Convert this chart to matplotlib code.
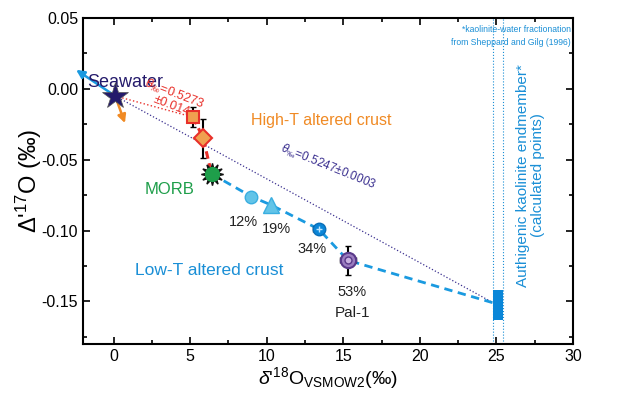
import matplotlib
matplotlib.use("Agg")
import matplotlib.pyplot as plt
from matplotlib.ticker import MultipleLocator, FormatStrFormatter
import numpy as np

plt.rcParams['font.family'] = ['Liberation Sans', 'DejaVu Sans']
plt.rcParams['mathtext.fontset'] = 'custom'
plt.rcParams['mathtext.rm'] = 'Liberation Sans'
plt.rcParams['mathtext.it'] = 'Liberation Sans:italic'

# ---- data ----
seawater = (0.1, -0.005)
arrow_blue_tip = (-2.6, 0.0145)
arrow_orange_tip = (0.8, -0.026)

hiT_x = [5.2, 5.85]
hiT_y = [-0.020, -0.035]
hiT_yerr = [0.007, 0.014]
hiT_xerr = [0.0, 0.3]

morb = (6.4, -0.060)

lowT_x = [9.0, 10.3, 13.4, 15.3]
lowT_y = [-0.076, -0.082, -0.099, -0.121]
lowT_labels = ["12%", "19%", "34%", "53%"]
lowT_yerr = [0.0, 0.0, 0.003, 0.010]
lowT_xerr = [0.0, 0.0, 0.35, 0.5]

kaol_x = [24.8, 25.4]
kaol_y = [-0.142, -0.163]
kaol_end = (24.8, -0.151)

xticks = [0, 5, 10, 15, 20, 25, 30]
yticks = [0.05, 0.00, -0.05, -0.10, -0.15]

navy = '#241a6b'
red = '#e8302a'
orange = '#f08a24'
green = '#1e9e4a'
blue = '#1a8fd6'
lblue = '#62c4e8'

fig = plt.figure(figsize=(6.25, 3.97), dpi=100)
ax = fig.add_axes([0.1328, 0.1335, 0.784, 0.8212])
ax.set_xlim(-2, 30)
ax.set_ylim(-0.18, 0.05)

# kaolinite dotted verticals and bar
for xv in kaol_x:
    ax.axvline(xv, color=blue, lw=0.8, ls=':')
ax.fill_between(kaol_x, kaol_y[0], kaol_y[1], color='#0a86d8', lw=0, zorder=3)

# theta lines
ax.plot([seawater[0], kaol_end[0]], [seawater[1], kaol_end[1]], ls=':', color='#3a2f8f', lw=0.9, zorder=2)
ax.plot([seawater[0], hiT_x[0]], [seawater[1], hiT_y[0]], ls=':', color=red, lw=1.0, zorder=2)

# high-T dashed line
ax.plot([hiT_x[0], hiT_x[1], morb[0]], [hiT_y[0], hiT_y[1], morb[1]], ls=(0, (2.5, 1.5)), color=red, lw=2.2, zorder=2)
# low-T dashed curve
cx = [morb[0]] + lowT_x + [kaol_end[0]]
cy = [morb[1]] + lowT_y + [kaol_end[1]]
ax.plot(cx, cy, ls=(0, (3, 2)), color='#1a9ae0', lw=2.0, zorder=2)

# arrows
ax.annotate('', xy=arrow_blue_tip, xytext=seawater, annotation_clip=False,
            arrowprops=dict(arrowstyle='-|>', color='#1a9ae0', lw=1.8, mutation_scale=12))
ax.annotate('', xy=arrow_orange_tip, xytext=seawater,
            arrowprops=dict(arrowstyle='-|>', color=orange, lw=1.8, mutation_scale=12))

# error bars
ax.errorbar(hiT_x, hiT_y, yerr=hiT_yerr, xerr=hiT_xerr, fmt='none', ecolor='black', elinewidth=1.5, capsize=2.5, zorder=4)
ax.errorbar(lowT_x, lowT_y, yerr=lowT_yerr, xerr=lowT_xerr, fmt='none', ecolor='black', elinewidth=1.5, capsize=2.5, zorder=4)

# markers
ax.plot(*seawater, marker='*', ms=20, color=navy, mec='#555', mew=0.5, zorder=6)
ax.plot(hiT_x[0], hiT_y[0], marker='s', ms=9, mfc='#f0a050', mec=red, mew=1.5, zorder=5)
ax.plot(hiT_x[1], hiT_y[1], marker='D', ms=9, mfc='#f0a050', mec=red, mew=1.5, zorder=5)
ax.plot(*morb, marker=(12, 1, 0), ms=16, color='#111', zorder=5)
ax.plot(*morb, marker='o', ms=10, color=green, zorder=6)
ax.plot(lowT_x[0], lowT_y[0], marker='o', ms=9, mfc=lblue, mec='#3aaee0', mew=1, zorder=5)
ax.plot(lowT_x[1], lowT_y[1], marker='^', ms=11, mfc=lblue, mec='#3aaee0', mew=1, zorder=5)
ax.plot(lowT_x[2], lowT_y[2], marker='o', ms=9, mfc='#0a86d8', mec='#0a6fb8', mew=1, zorder=5)
ax.plot(lowT_x[2], lowT_y[2], marker='+', ms=4, color='#bfe6ff', mew=1, zorder=6)
ax.plot(lowT_x[3], lowT_y[3], marker='o', ms=11, mfc='#9a7cc0', mec='#5a3a8a', mew=1.5, zorder=5)
ax.plot(lowT_x[3], lowT_y[3], marker='o', ms=5, mfc='#c8b0e0', mec='#5a3a8a', mew=1, zorder=6)

# labels
ax.text(-1.7, 0.0045, 'Seawater', color=navy, fontsize=13, ha='left', va='center')
ax.text(3.95, -0.0035, r'$\theta_{‰}$=0.5273', color=red, fontsize=9,
        rotation=-21, ha='center', va='center')
ax.text(3.75, -0.0118, r'±0.014', color=red, fontsize=9,
        rotation=-21, ha='center', va='center')
ax.text(9.0, -0.0225, 'High-T altered crust', color=orange, fontsize=11.5, ha='left', va='center')
ax.text(5.3, -0.071, 'MORB', color=green, fontsize=12, ha='right', va='center')
off = [(-0.55, -0.0177), (0.35, -0.017), (-0.45, -0.014), (0.3, -0.022)]
for x, y, t, (dx, dy) in zip(lowT_x, lowT_y, lowT_labels, off):
    ax.text(x + dx, y + dy, t, color='#222', fontsize=10.5, ha='center', va='center')
ax.text(lowT_x[3] + 0.3, -0.158, 'Pal-1', color='#222', fontsize=11, ha='center', va='center')
ax.text(1.4, -0.128, 'Low-T altered crust', color=blue, fontsize=12.5, ha='left', va='center')
ax.text(14.0, -0.055, r'$\theta_{‰}$=0.5247±0.0003', color='#3a2f8f', fontsize=8.5,
        rotation=-22, ha='center', va='center')
ax.text(29.85, 0.045, '*kaolinite-water fractionation\nfrom Sheppard and Gilg (1996)', color=blue,
        fontsize=6.2, ha='right', va='top', linespacing=1.6)
ax.text(27.2, -0.061, 'Authigenic kaolinite endmember*\n(calculated points)', color=blue,
        fontsize=11, rotation=90, ha='center', va='center', linespacing=1.1)

# axes style
ax.set_xticks(xticks)
ax.set_yticks(yticks)
ax.xaxis.set_minor_locator(MultipleLocator(2.5))
ax.yaxis.set_minor_locator(MultipleLocator(0.025))
ax.yaxis.set_major_formatter(FormatStrFormatter('%.2f'))
ax.tick_params(which='both', direction='in', top=True, right=True, labelsize=11.5, width=1.2)
ax.tick_params(which='major', length=5)
ax.tick_params(which='minor', length=3)
for s in ax.spines.values():
    s.set_linewidth(1.5)
ax.set_xlabel(r"$\it{\delta}$'$^{18}$O$_{\rm VSMOW2}$(‰)", fontsize=14, labelpad=1)
ax.set_ylabel(r"Δ'$^{17}$O (‰)", fontsize=17)
ax.yaxis.set_label_coords(-0.08, 0.5)

fig.savefig('out.png', dpi=100)
